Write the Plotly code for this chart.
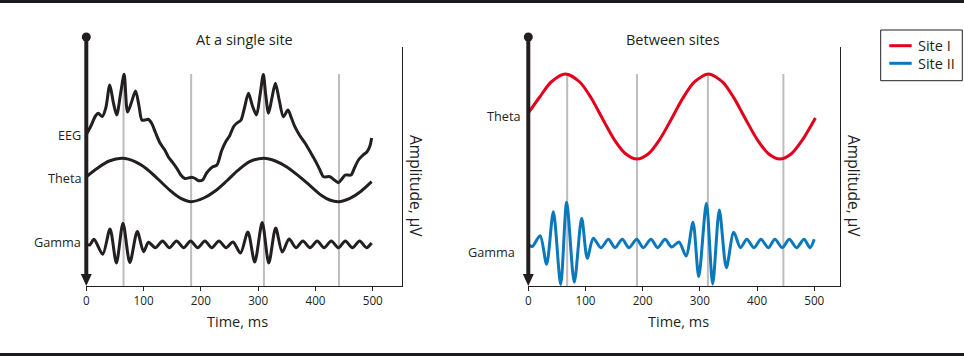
import plotly.graph_objects as go

W, H = 964, 356
INK = "#231f20"
RED = "#e2001a"
BLUE = "#0a78bd"
GRID = "#bdbdbd"
FONT = "Open Sans, Noto Sans, Liberation Sans, sans-serif"

# ---------------- data (time in ms, amplitude in arbitrary µV units) ----------------
eeg_t = [0, 8, 16, 21, 28, 34, 41, 47, 53, 60, 66, 72, 79, 86, 92, 97, 103, 108, 114, 121,
         129, 137, 143, 150, 158, 165, 172, 184, 190, 196, 203, 210, 220, 228, 236, 244, 250,
         257, 263, 270, 276, 283, 290, 297, 303, 309, 313, 318, 324, 330, 337, 344, 352, 358,
         364, 372, 382, 392, 400, 407, 414, 425, 433, 440, 446, 452, 462, 468, 475, 483, 490,
         495, 498]
eeg_v = [151.5, 160, 170, 172.7, 169.5, 178, 201, 184, 171, 193, 211.7, 174, 184, 195, 180,
         166, 166, 166.7, 162.7, 153, 142.7, 136, 129.3, 124, 117.7, 111, 107.5, 108.7, 107.5,
         105.3, 106, 113, 119, 121, 135, 145, 150, 159.3, 163, 166, 178, 192.7, 180, 171, 190,
         211.5, 192, 172.7, 188, 202.7, 185, 169.3, 176, 168, 159.3, 151, 142.7, 133, 125, 117,
         109.3, 109.3, 106, 103.3, 107, 111, 111, 118, 126, 131, 134.3, 140, 148]

theta1_t = [0, 20, 40, 63, 85, 105, 125, 145, 165, 183, 205, 225, 245, 265, 285, 310, 330,
            350, 370, 390, 410, 425, 440, 460, 480, 498]
theta1_v = [109.3, 118, 125, 127.7, 124.4, 117.3, 107, 96.2, 87.6, 84.3, 88, 95, 105, 115.8,
            124.4, 127.7, 125, 119, 110.3, 100.6, 90.8, 86, 84.3, 87.6, 95, 104.3]

gamma1_t = [0, 6, 13.4, 28.6, 41.4, 52.5, 64, 76, 89, 100, 108.5, 120.5, 133, 145, 157.5, 170,
            182, 194.5, 207, 219, 231.5, 244, 256, 269, 282, 294, 307, 318.5, 330.5, 342, 354,
            366, 378, 390.5, 403, 415, 427.5, 440, 452, 464.5, 477, 489, 498]
gamma1_v = [41.7, 41, 46.7, 31.7, 57, 23, 62.7, 23.5, 54.5, 34.3, 43.7, 38.3, 45, 38.3, 45,
            38.3, 45, 38.3, 45, 38.3, 45, 38.3, 44, 33, 54, 24, 63.5, 23, 58, 34, 47, 38.3, 45,
            38.3, 45, 38.3, 45, 38.3, 45, 38.3, 45, 38.3, 43]

theta2_t = [0, 20, 40, 65, 90, 110, 130, 150, 170, 190, 210, 230, 250, 270, 290, 315, 340,
            360, 380, 400, 420, 440, 460, 480, 502]
theta2_v = [173, 189, 204, 212, 204, 188, 167, 146.7, 132.3, 127, 132.3, 146.7, 166.8, 187.6,
            203.9, 212, 203.9, 187.6, 166.8, 146.7, 132.3, 127, 132.3, 146.7, 168]

gamma2_t = [0, 7, 20.6, 32, 43.8, 56.6, 67.1, 80.4, 93.3, 103.1, 113.6, 127, 140, 151.6, 164.3,
            176, 189.5, 201, 214.5, 226.2, 239, 250.7, 263.5, 275.9, 288, 298, 311.4, 322.4,
            334, 346.3, 359.2, 371, 382, 394.6, 406.8, 419.6, 431.2, 444, 456.3, 469.2, 482,
            492.5, 500]
gamma2_v = [41.5, 39.5, 50.3, 21.7, 74.3, 1.5, 83.7, 3.7, 67.7, 27.7, 47.7, 38.3, 46.7, 38.3,
            46.7, 38.3, 46.7, 38.3, 46.7, 38.3, 46.7, 39, 44, 30, 63.7, 9.3, 82.7, 2, 76, 18.3,
            53.7, 38.3, 46.7, 38.3, 46.7, 38.3, 46.7, 38.3, 46.7, 38.3, 46.7, 38.3, 46.7]

phase_left = [65, 183, 310, 441]
phase_right = [68, 190, 314, 446]
phase_top = 212
tick_vals = [0, 100, 200, 300, 400, 500]
labels_left = [("EEG", 151), ("Theta", 107.7), ("Gamma", 44.3)]
labels_right = [("Theta", 170.3), ("Gamma", 34.3)]
legend_names = ["Site I", "Site II"]
legend_colors = [RED, BLUE]

# ---------------- helpers for layout placement (pixels -> paper) ----------------
def px(x):
    return x / W


def py(y):
    return 1 - y / H


fig = go.Figure()

line_kw = dict(shape="spline", smoothing=0.8)
fig.add_trace(go.Scatter(x=eeg_t, y=eeg_v, mode="lines", line=dict(color=INK, width=3, **line_kw),
                         xaxis="x", yaxis="y", name="EEG", hoverinfo="skip"))
fig.add_trace(go.Scatter(x=theta1_t, y=theta1_v, mode="lines", line=dict(color=INK, width=3, **line_kw),
                         xaxis="x", yaxis="y", name="Theta", hoverinfo="skip"))
fig.add_trace(go.Scatter(x=gamma1_t, y=gamma1_v, mode="lines", line=dict(color=INK, width=3, **line_kw),
                         xaxis="x", yaxis="y", name="Gamma", hoverinfo="skip"))
fig.add_trace(go.Scatter(x=theta2_t, y=theta2_v, mode="lines", name=legend_names[0],
                         line=dict(color=RED, width=3, **line_kw), xaxis="x2", yaxis="y2"))
fig.add_trace(go.Scatter(x=gamma2_t, y=gamma2_v, mode="lines", name=legend_names[1],
                         line=dict(color=BLUE, width=3, **line_kw), xaxis="x2", yaxis="y2"))

shapes = []
# top / bottom rules
shapes.append(dict(type="rect", xref="paper", yref="paper", x0=0, x1=1, y0=py(3), y1=1,
                   fillcolor="#1a1a1e", line=dict(width=0)))
shapes.append(dict(type="rect", xref="paper", yref="paper", x0=0, x1=1, y0=0, y1=py(353),
                   fillcolor="#1a1a1e", line=dict(width=0)))
# amplitude arrows: shaft, dot on top, head at bottom
for xd in ("x domain", "x2 domain"):
    shapes.append(dict(type="line", xref=xd, yref="paper", x0=0, x1=0, y0=py(37), y1=py(276),
                       line=dict(color=INK, width=4)))
    shapes.append(dict(type="circle", xref=xd, yref="paper", xsizemode="pixel", ysizemode="pixel",
                       xanchor=0, yanchor=py(37), x0=-4.5, x1=4.5, y0=-4.5, y1=4.5,
                       fillcolor=INK, line=dict(width=0)))
    shapes.append(dict(type="path", xref=xd, yref="paper", xsizemode="pixel", ysizemode="pixel",
                       xanchor=0, yanchor=py(286), path="M -5.5,12 L 5.5,12 L 0,0 Z",
                       fillcolor=INK, line=dict(width=0)))
# phase lines
for t in phase_left:
    shapes.append(dict(type="line", xref="x", yref="y", x0=t, x1=t, y0=0, y1=phase_top,
                       line=dict(color=GRID, width=2), layer="below"))
for t in phase_right:
    shapes.append(dict(type="line", xref="x2", yref="y2", x0=t, x1=t, y0=0, y1=phase_top,
                       line=dict(color=GRID, width=2), layer="below"))
# legend box
shapes.append(dict(type="rect", xref="paper", yref="paper", x0=px(880.7), x1=px(962.3),
                   y0=py(80.7), y1=py(30), line=dict(color=INK, width=1), fillcolor="white"))
for i, c in enumerate(legend_colors):
    yy = py(45.7 + 17.6 * i)
    shapes.append(dict(type="line", xref="paper", yref="paper", x0=px(889.3), x1=px(911.7),
                       y0=yy, y1=yy, line=dict(color=c, width=3)))

ann = []
def text(x, y, s, size, xanchor="center", yanchor="middle", angle=0, xref="paper", yref="paper", xshift=0):
    ann.append(dict(x=x, y=y, text=s, xref=xref, yref=yref, showarrow=False, xanchor=xanchor,
                    yanchor=yanchor, textangle=angle, xshift=xshift,
                    font=dict(family=FONT, size=size, color=INK)))

text(px(244), py(39), "At a single site", 14.5)
text(px(673), py(39), "Between sites", 14.5)
text(px(237), py(321), "Time, ms", 14.5)
text(px(678), py(321), "Time, ms", 14.5)
text(px(416), py(186), "Amplitude, µV", 15.5, angle=90)
text(px(854), py(186), "Amplitude, µV", 15.5, angle=90)
for s, v in labels_left:
    text(0, v, s, 12.7, xanchor="right", xref="x domain", yref="y", xshift=-3)
for s, v in labels_right:
    text(0, v, s, 12.7, xanchor="right", xref="x2 domain", yref="y2", xshift=-6 if s == "Theta" else -11)
for i, s in enumerate(legend_names):
    text(px(916), py(45.7 + 17.6 * i), s, 14.5, xanchor="left")

xcommon = dict(showline=True, linecolor=INK, linewidth=1, ticks="outside", ticklen=4, tickwidth=1,
               tickcolor=INK, tickvals=tick_vals, tickfont=dict(family=FONT, size=11.7, color=INK),
               showgrid=False, zeroline=False, fixedrange=True, automargin=False)
ycommon = dict(domain=[1 - 286 / H, 1 - 47 / H], range=[0, 239], side="right", showline=True,
               linecolor=INK, linewidth=1, showticklabels=False, ticks="", showgrid=False,
               zeroline=False, fixedrange=True, automargin=False)

fig.update_layout(
    width=W, height=H,
    margin=dict(l=0, r=0, t=0, b=0, pad=0),
    paper_bgcolor="white", plot_bgcolor="rgba(0,0,0,0)",
    font=dict(family=FONT, color=INK),
    xaxis=dict(domain=[px(86.3), px(402)], range=[0, 551], anchor="y", **xcommon),
    yaxis=dict(anchor="x", **ycommon),
    xaxis2=dict(domain=[px(528.3), px(840)], range=[0, 545], anchor="y2", **xcommon),
    yaxis2=dict(anchor="x2", **ycommon),
    shapes=shapes,
    annotations=ann,
    showlegend=False,
)

fig.write_html("out.html", config={"displayModeBar": False},
               post_script="document.body.style.margin='0';")
